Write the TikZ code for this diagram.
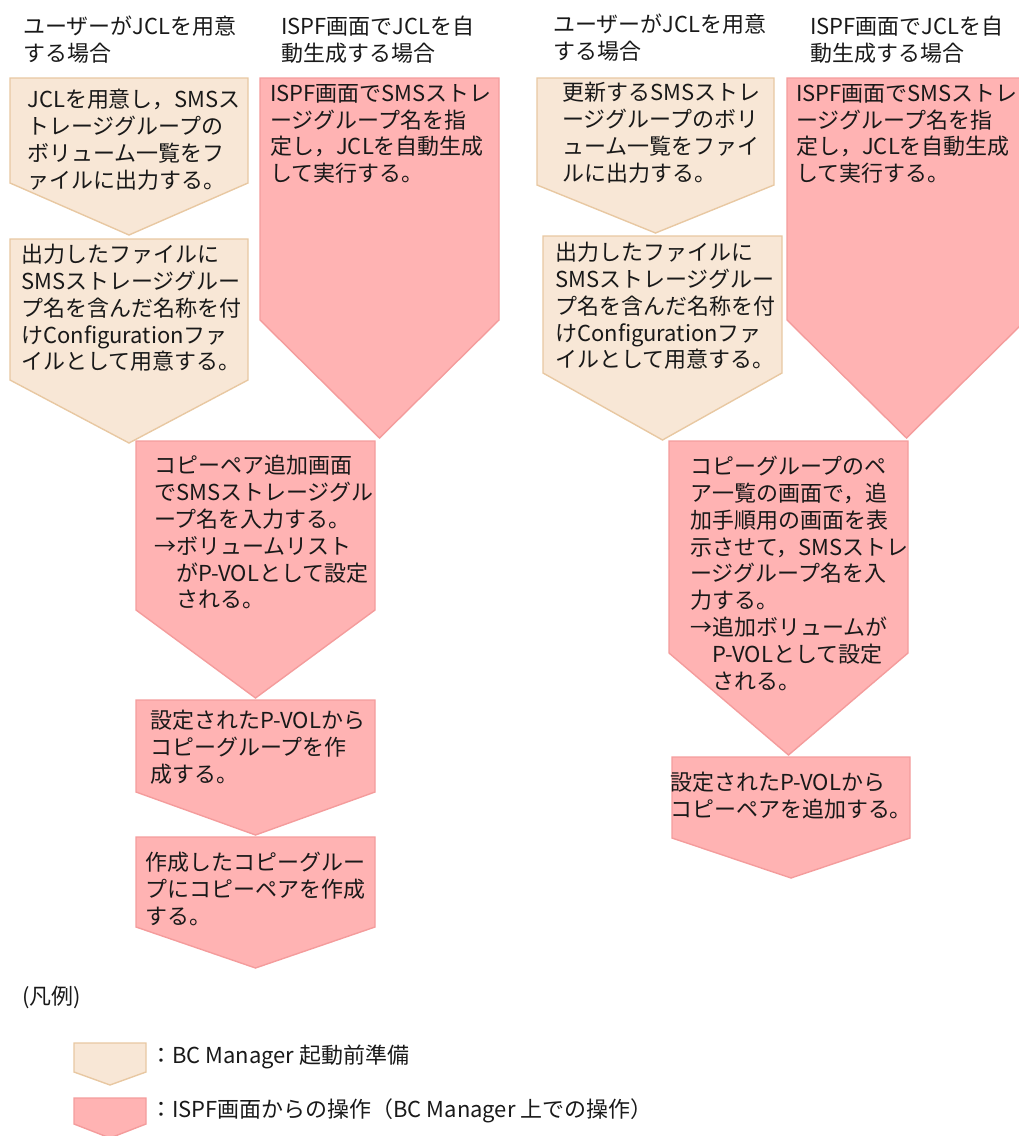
\documentclass[tikz,border=0pt]{standalone}
\usepackage{fontspec}
\setmainfont{Noto Sans CJK JP}
\definecolor{prepfill}{HTML}{F8E7D6}
\definecolor{prepline}{HTML}{E8C8A2}
\definecolor{ispffill}{HTML}{FFB3B3}
\definecolor{ispfline}{HTML}{F49C9C}
\tikzset{
  prep/.style={draw=prepline, fill=prepfill, line width=0.8pt},
  ispf/.style={draw=ispfline, fill=ispffill, line width=0.8pt},
  txt/.style={anchor=north west, align=left, inner sep=0pt,
    font=\fontsize{12.5pt}{15.25pt}\selectfont, text=black!90},
}
% [style]{x}{top}{width}{body height}{tip depth}
\newcommand{\pent}[6][prep]{%
  \filldraw[#1] (#2,#3) -- ++(#4,0) -- ++(0,#5) -- ++(-#4/2,#6) -- ++(-#4/2,-#6) -- cycle;}
\newcommand{\ind}{\phantom{→}}

\begin{document}
\begin{tikzpicture}[x=0.02cm, y=-0.02cm]
\useasboundingbox (0,0) rectangle (1018,1136);

% ── Left: create copy group ──────────────────────────────
\node[txt] (hl1) at (23,16) {ユーザーがJCLを用意\\する場合};
\node[txt] (hl2) at (281,16) {ISPF画面でJCLを自\\動生成する場合};

\pent[prep]{10}{78}{238}{105}{52}
\node[txt] (la) at (27,89) {JCLを用意し，SMSス\\トレージグループの\\ボリューム一覧をフ\\ァイルに出力する。};

\pent[prep]{10}{239}{238}{141}{63}
\node[txt] (lb) at (21,244) {出力したファイルに\\SMSストレージグルー\\プ名を含んだ名称を付\\けConfigurationファ\\イルとして用意する。};

\pent[ispf]{260}{78}{239}{242}{118}
\node[txt] (lc) at (270,84) {ISPF画面でSMSストレ\\ージグループ名を指\\定し，JCLを自動生成\\して実行する。};

\pent[ispf]{136}{441}{239}{169}{88}
\node[txt] (ld) at (154,455) {コピーペア追加画面\\でSMSストレージグル\\ープ名を入力する。\\→ボリュームリスト\\\ind がP-VOLとして設定\\\ind される。};

\pent[ispf]{136}{700}{239}{92}{43}
\node[txt] (le) at (150,710) {設定されたP-VOLから\\コピーグループを作\\成する。};

\pent[ispf]{136}{837}{239}{90}{41}
\node[txt] (lf) at (145,852) {作成したコピーグルー\\プにコピーペアを作成\\する。};

% ── Right: add copy pair ─────────────────────────────────
\node[txt] (hr1) at (553,14) {ユーザーがJCLを用意\\する場合};
\node[txt] (hr2) at (810,16) {ISPF画面でJCLを自\\動生成する場合};

\pent[prep]{537}{78}{237}{107}{48}
\node[txt] (ra) at (562,82) {更新するSMSストレ\\ージグループのボリ\\ューム一覧をファイ\\ルに出力する。};

\pent[prep]{543}{236}{239}{137}{67}
\node[txt] (rb) at (555,242) {出力したファイルに\\SMSストレージグルー\\プ名を含んだ名称を付\\けConfigurationファ\\イルとして用意する。};

\pent[ispf]{787}{78}{239}{242}{118}
\node[txt] (rc) at (796,84) {ISPF画面でSMSストレ\\ージグループ名を指\\定し，JCLを自動生成\\して実行する。};

\pent[ispf]{669}{441}{239}{212}{102}
\node[txt] (rd) at (690,456) {コピーグループのペ\\ア一覧の画面で，追\\加手順用の画面を表\\示させて，SMSストレ\\ージグループ名を入\\力する。\\→追加ボリュームが\\\ind P-VOLとして設定\\\ind される。};

\pent[ispf]{672}{757}{238}{81}{40}
\node[txt] (re) at (670,772) {設定されたP-VOLから\\コピーペアを追加する。};

% ── Legend ───────────────────────────────────────────────
\node[txt] (lg) at (22,986) {(凡例)};
\pent[prep]{74}{1043}{72}{29}{13}
\node[txt, anchor=west] (lg1) at (150,1057) {：BC Manager 起動前準備};
\pent[ispf]{74}{1098}{72}{26}{14}
\node[txt, anchor=west] (lg2) at (150,1111) {：ISPF画面からの操作（BC Manager 上での操作）};

\end{tikzpicture}
\end{document}
